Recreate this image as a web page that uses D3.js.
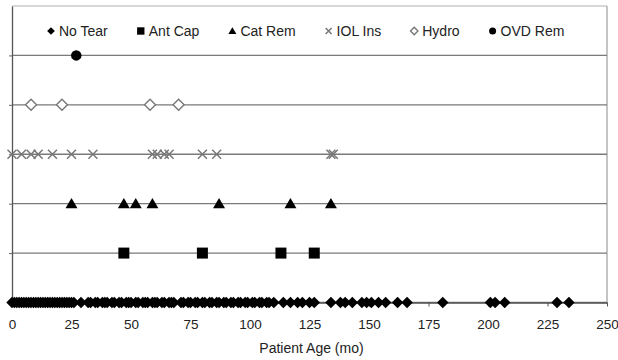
<!DOCTYPE html>
<html>
<head>
<meta charset="utf-8">
<script src="https://cdn.jsdelivr.net/npm/d3@7"></script>
<style>
  body { margin:0; background:#fff; }
  svg text { font-family: "Liberation Sans", Arial, sans-serif; fill:#222; }
</style>
</head>
<body>
<div id="chart"></div>
<script>
// rows from bottom to top
var categories = ["No Tear", "Ant Cap", "Cat Rem", "IOL Ins", "Hydro", "OVD Rem"];
var xTicks = [0, 25, 50, 75, 100, 125, 150, 175, 200, 225, 250];

// patient age (months) for each row
var noTear = [0,1,2,3,4,5,6,7,8,9,10,11,12,13,14,15,16,17,18,19,20,21,22,23,24,25,26,
  29,32,33,35,36,38,39,40,42,43,45,46,48,49,50,52,53,55,56,57,59,60,61,63,64,66,67,68,
  71,72,74,75,77,78,80,81,83,84,86,87,89,90,92,93,95,96,98,99,101,102,104,105,107,108,110,
  114,117,120,122,125,127,134,138,140,143,147,149,151,154,157,162,166,181,201,203,207,229,234];
var antCap = [47, 80, 113, 127];
var catRem = [25, 47, 52, 59, 87, 117, 134];
var iolIns = [0, 4, 8, 11, 17, 25, 34, 59, 61, 64, 66, 80, 86, 134, 135];
var hydro = [8, 21, 58, 70];
var ovdRem = [27];

var seriesValues = [noTear, antCap, catRem, iolIns, hydro, ovdRem];

var width = 618, height = 360;
var margin = {top:6, left:12, right:11, bottom:58};

// custom marker shapes
var diamond = { draw: function(ctx, size){ var r = Math.sqrt(size)/2;
  ctx.moveTo(0,-r); ctx.lineTo(r,0); ctx.lineTo(0,r); ctx.lineTo(-r,0); ctx.closePath(); } };
var square = { draw: function(ctx, size){ var r = Math.sqrt(size)/2;
  ctx.rect(-r,-r,2*r,2*r); } };
var triangle = { draw: function(ctx, size){ var r = Math.sqrt(size)/2;
  ctx.moveTo(0,-r); ctx.lineTo(r*1.05,r*0.8); ctx.lineTo(-r*1.05,r*0.8); ctx.closePath(); } };
var cross = { draw: function(ctx, size){ var r = Math.sqrt(size)/2;
  ctx.moveTo(-r,-r); ctx.lineTo(r,r); ctx.moveTo(r,-r); ctx.lineTo(-r,r); } };
var circle = { draw: function(ctx, size){ var r = Math.sqrt(size)/2;
  ctx.moveTo(r,0); ctx.arc(0,0,r,0,2*Math.PI); } };

var styles = [
  {type: diamond, size: 132, fill: "#000", stroke: "none", sw: 0},
  {type: square, size: 121, fill: "#000", stroke: "none", sw: 0},
  {type: triangle, size: 130, fill: "#000", stroke: "none", sw: 0},
  {type: cross, size: 80, fill: "none", stroke: "#777", sw: 1.5},
  {type: diamond, size: 121, fill: "#fff", stroke: "#777", sw: 1.4},
  {type: circle, size: 110, fill: "#000", stroke: "none", sw: 0}
];

var svg = d3.select("#chart").append("svg").attr("width", width).attr("height", height);
svg.append("rect").attr("width", width).attr("height", height).attr("fill", "#fff");

var x = d3.scaleLinear().domain([0, 250]).range([margin.left, width - margin.right]);
var y = d3.scaleLinear().domain([0, 6]).range([height - margin.bottom + 0.5, margin.top]);

// frame: top & right light grey
svg.append("line").attr("x1", x(0)).attr("x2", x(250)).attr("y1", y(6)).attr("y2", y(6))
  .attr("stroke", "#b0b0b0").attr("stroke-width", 1.2);
svg.append("line").attr("x1", x(250)).attr("x2", x(250)).attr("y1", y(6)).attr("y2", y(0))
  .attr("stroke", "#b0b0b0").attr("stroke-width", 1.5);

// gridlines, one per row
svg.append("g").selectAll("line").data(categories).enter().append("line")
  .attr("x1", x(0)).attr("x2", x(250))
  .attr("y1", function(d,i){ return y(i); }).attr("y2", function(d,i){ return y(i); })
  .attr("stroke", "#7a7a7a").attr("stroke-width", 1.3);

// y axis, no labels
var yAxis = d3.axisLeft(y).tickValues([0,1,2,3,4,5]).tickSize(3).tickSizeOuter(0).tickFormat("");
var yg = svg.append("g").attr("transform", "translate(" + x(0) + ",0)").call(yAxis);
yg.select(".domain").attr("stroke", "#555").attr("stroke-width", 1.3);
yg.selectAll(".tick line").attr("stroke", "#666");

// x axis
var xAxis = d3.axisBottom(x).tickValues(xTicks).tickSize(4).tickSizeOuter(0);
var xg = svg.append("g").attr("transform", "translate(0," + y(0) + ")").call(xAxis);
xg.select(".domain").attr("stroke", "#555").attr("stroke-width", 1.3);
xg.selectAll(".tick line").attr("stroke", "#555");
xg.selectAll(".tick text").attr("font-size", "13.5px").attr("font-family", "Liberation Sans, Arial, sans-serif")
  .attr("fill", "#333").attr("dy", "0").attr("y", 26);

svg.append("text").attr("x", (x(0) + x(250)) / 2 + 2).attr("y", 353)
  .attr("text-anchor", "middle").attr("font-size", "14px").attr("fill", "#333")
  .text("Patient Age (mo)");

// markers
categories.forEach(function(c, i){
  var st = styles[i];
  svg.append("g").selectAll("path").data(seriesValues[i]).enter().append("path")
    .attr("d", d3.symbol().type(st.type).size(st.size))
    .attr("transform", function(d){ return "translate(" + x(d) + "," + y(i) + ")"; })
    .attr("fill", st.fill).attr("stroke", st.stroke).attr("stroke-width", st.sw);
});

// legend across the top band
var legend = svg.append("g");
var lx = 51, ly = 31;
categories.forEach(function(c, i){
  var st = styles[i];
  var item = legend.append("g").attr("transform", "translate(" + lx + "," + ly + ")");
  item.append("path").attr("d", d3.symbol().type(st.type).size(st.size * 0.45))
    .attr("fill", st.fill).attr("stroke", st.stroke).attr("stroke-width", st.sw);
  var t = item.append("text").attr("x", 8).attr("y", 5).attr("font-size", "14px")
    .attr("fill", "#333").text(c);
  lx += 8 + t.node().getComputedTextLength() + 33;
});
</script>
</body>
</html>
